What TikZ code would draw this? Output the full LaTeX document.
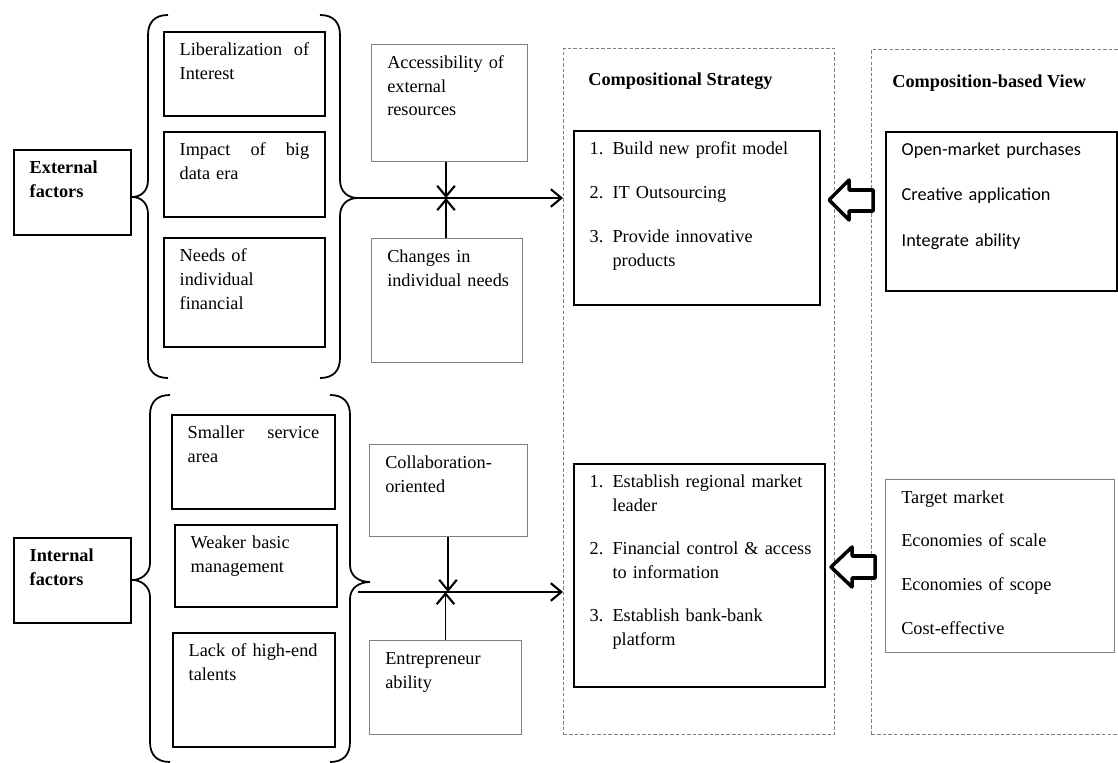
\documentclass[tikz,border=0pt]{standalone}
\usepackage{fontspec}
\setmainfont{Liberation Serif}
\newfontfamily\calib{Carlito}
\usetikzlibrary{positioning,arrows.meta}
\newcommand\fs{\fontsize{10.4}{13.6}\selectfont}

\begin{document}
\begin{tikzpicture}[x=0.02cm,y=-0.02cm,
    f/.style={->,line width=1pt,>={Straight Barb[length=6pt,width=10pt,line width=1.2pt]}},%
    b/.style={draw,line width=1pt,anchor=north west,align=left,inner xsep=9pt,inner ysep=4pt,text height=9.5pt,font=\fs},%
    g/.style={b,draw=gray,line width=.5pt},%
    fr/.style={draw=gray,dash pattern=on 2pt off 1.2pt,line width=.5pt,anchor=north west,inner sep=0pt},%
    h/.style={anchor=base west,inner sep=0pt,font=\fs\bfseries},%
    br/.style={line width=1pt},%
    hol/.style={line width=2pt,line join=round,fill=white}]
    \useasboundingbox (0,0) rectangle (1118,763);

    % dashed frames
    \node[fr,minimum width=5.42cm,minimum height=13.72cm] (sfr) at (563,48) {};
    \node[fr,minimum width=5.4cm,minimum height=13.7cm] (vfr) at (871,49) {};
    \node[h] (sh) at (588,86) {Compositional Strategy};
    \node[h] (vh) at (892,88) {Composition-based View};

    % external side
    \node[b,text width=1.71cm,text depth=1.09cm,font=\fs\bfseries] (ext) at (13,149) {External\\factors};
    \node[b,text width=2.59cm,text depth=1.07cm] (lib) at (163,31) {Liberalization\hfill of\\Interest};
    \node[b,text width=2.59cm,text depth=1.09cm] (imp) at (163,131) {Impact\hfill of\hfill big\\data era};
    \node[b,text width=2.59cm,text depth=1.57cm] (ned) at (163,237) {Needs of\\individual\\financial};
    \node[g,text width=2.49cm,text depth=1.73cm] (acc) at (371,44) {Accessibility of\\external\\resources};
    \node[g,text width=2.39cm,text depth=1.87cm] (chg) at (371,238) {Changes in\\\mbox{individual needs}};

    % internal side
    \node[b,text width=1.71cm,text depth=1.09cm,font=\fs\bfseries] (int) at (13,537) {Internal\\factors};
    \node[b,text width=2.63cm,text depth=1.27cm] (sma) at (171,414) {Smaller\hfill service\\area};
    \node[b,text width=2.61cm,text depth=1.03cm] (wea) at (174,524) {Weaker basic\\management};
    \node[b,text width=2.61cm,text depth=1.67cm] (lac) at (172,632) {Lack of high-end\\talents};
    \node[g,text width=2.53cm,text depth=1.23cm] (col) at (369,444) {Collaboration-\\oriented};
    \node[g,text width=2.41cm,text depth=1.27cm] (ent) at (369,640) {Entrepreneur\\ability};

    % strategy and view
    \node[b,text width=4.29cm,text depth=2.87cm] (st1) at (573,130) {1. Build new profit model\\[11.5pt]2. IT Outsourcing\\[11.5pt]3. Provide innovative\\\hphantom{3. }products};
    \node[b,text width=4.39cm,text depth=3.85cm] (st2) at (573,463) {1. Establish regional market\\\hphantom{1. }leader\\[11pt]\mbox{2. Financial control \& access}\\\hphantom{2. }to information\\[11pt]3. Establish bank-bank\\\hphantom{3. }platform};
    \node[b,text width=3.99cm,text depth=2.57cm,font=\fs\calib] (vw1) at (885,131) {Open-market purchases\\[12.2pt]Creative application\\[12.2pt]Integrate ability};
    \node[g,text width=3.95cm,text depth=2.85cm] (vw2) at (885,479) {Target market\\[11.3pt]Economies of scale\\[11.3pt]Economies of scope\\[11.3pt]Cost-effective};

    % braces
    \coordinate (etip) at (358,198);
    \coordinate (itip) at (358,592);
    \draw[br] (168,15) .. controls (155,15) and (148,22) .. (148,35) -- (148,180) .. controls (148,191) and (141,197) .. (132,197) .. controls (141,197) and (148,203) .. (148,214) -- (148,358) .. controls (148,371) and (155,378) .. (168,378);
    \draw[br] (320,15) .. controls (333,15) and (340,22) .. (340,35) -- (340,180) .. controls (340,191) and (347,198) .. (etip) .. controls (347,198) and (340,205) .. (340,216) -- (340,358) .. controls (340,371) and (333,378) .. (320,378);
    \draw[br] (170,395) .. controls (157,395) and (150,402) .. (150,415) -- (150,563) .. controls (150,574) and (141,580) .. (132,580) .. controls (141,580) and (150,586) .. (150,597) -- (150,742) .. controls (150,755) and (157,762) .. (170,762);
    \draw[br] (330,395) .. controls (343,395) and (350,402) .. (350,415) -- (350,565) .. controls (350,576) and (359,582) .. (370,582) .. controls (359,582) and (350,588) .. (350,599) -- (350,742) .. controls (350,755) and (343,762) .. (330,762);

    % arrows
    \coordinate (ej) at (446,198);
    \coordinate (ij) at (448,592);
    \draw[f] (etip) -- (etip -| sfr.west);
    \draw[f] (acc.south -| ej) -- (ej);
    \draw[f] (chg.north -| ej) -- (ej);
    \draw[f] (itip) -- (itip -| sfr.west);
    \draw[f] (col.south -| ij) -- (ij);
    \draw[f] (ent.north) -- (ent.north |- ij);

    \draw[hol] (829,200) -- ++(20,-20) -- ++(0,10) -- ++(24,0) -- ++(0,21) -- ++(-24,0) -- ++(0,9) -- cycle;
    \draw[hol] (831,567) -- ++(21,-20) -- ++(0,9) -- ++(23,0) -- ++(0,22) -- ++(-23,0) -- ++(0,9) -- cycle;
\end{tikzpicture}
\end{document}
